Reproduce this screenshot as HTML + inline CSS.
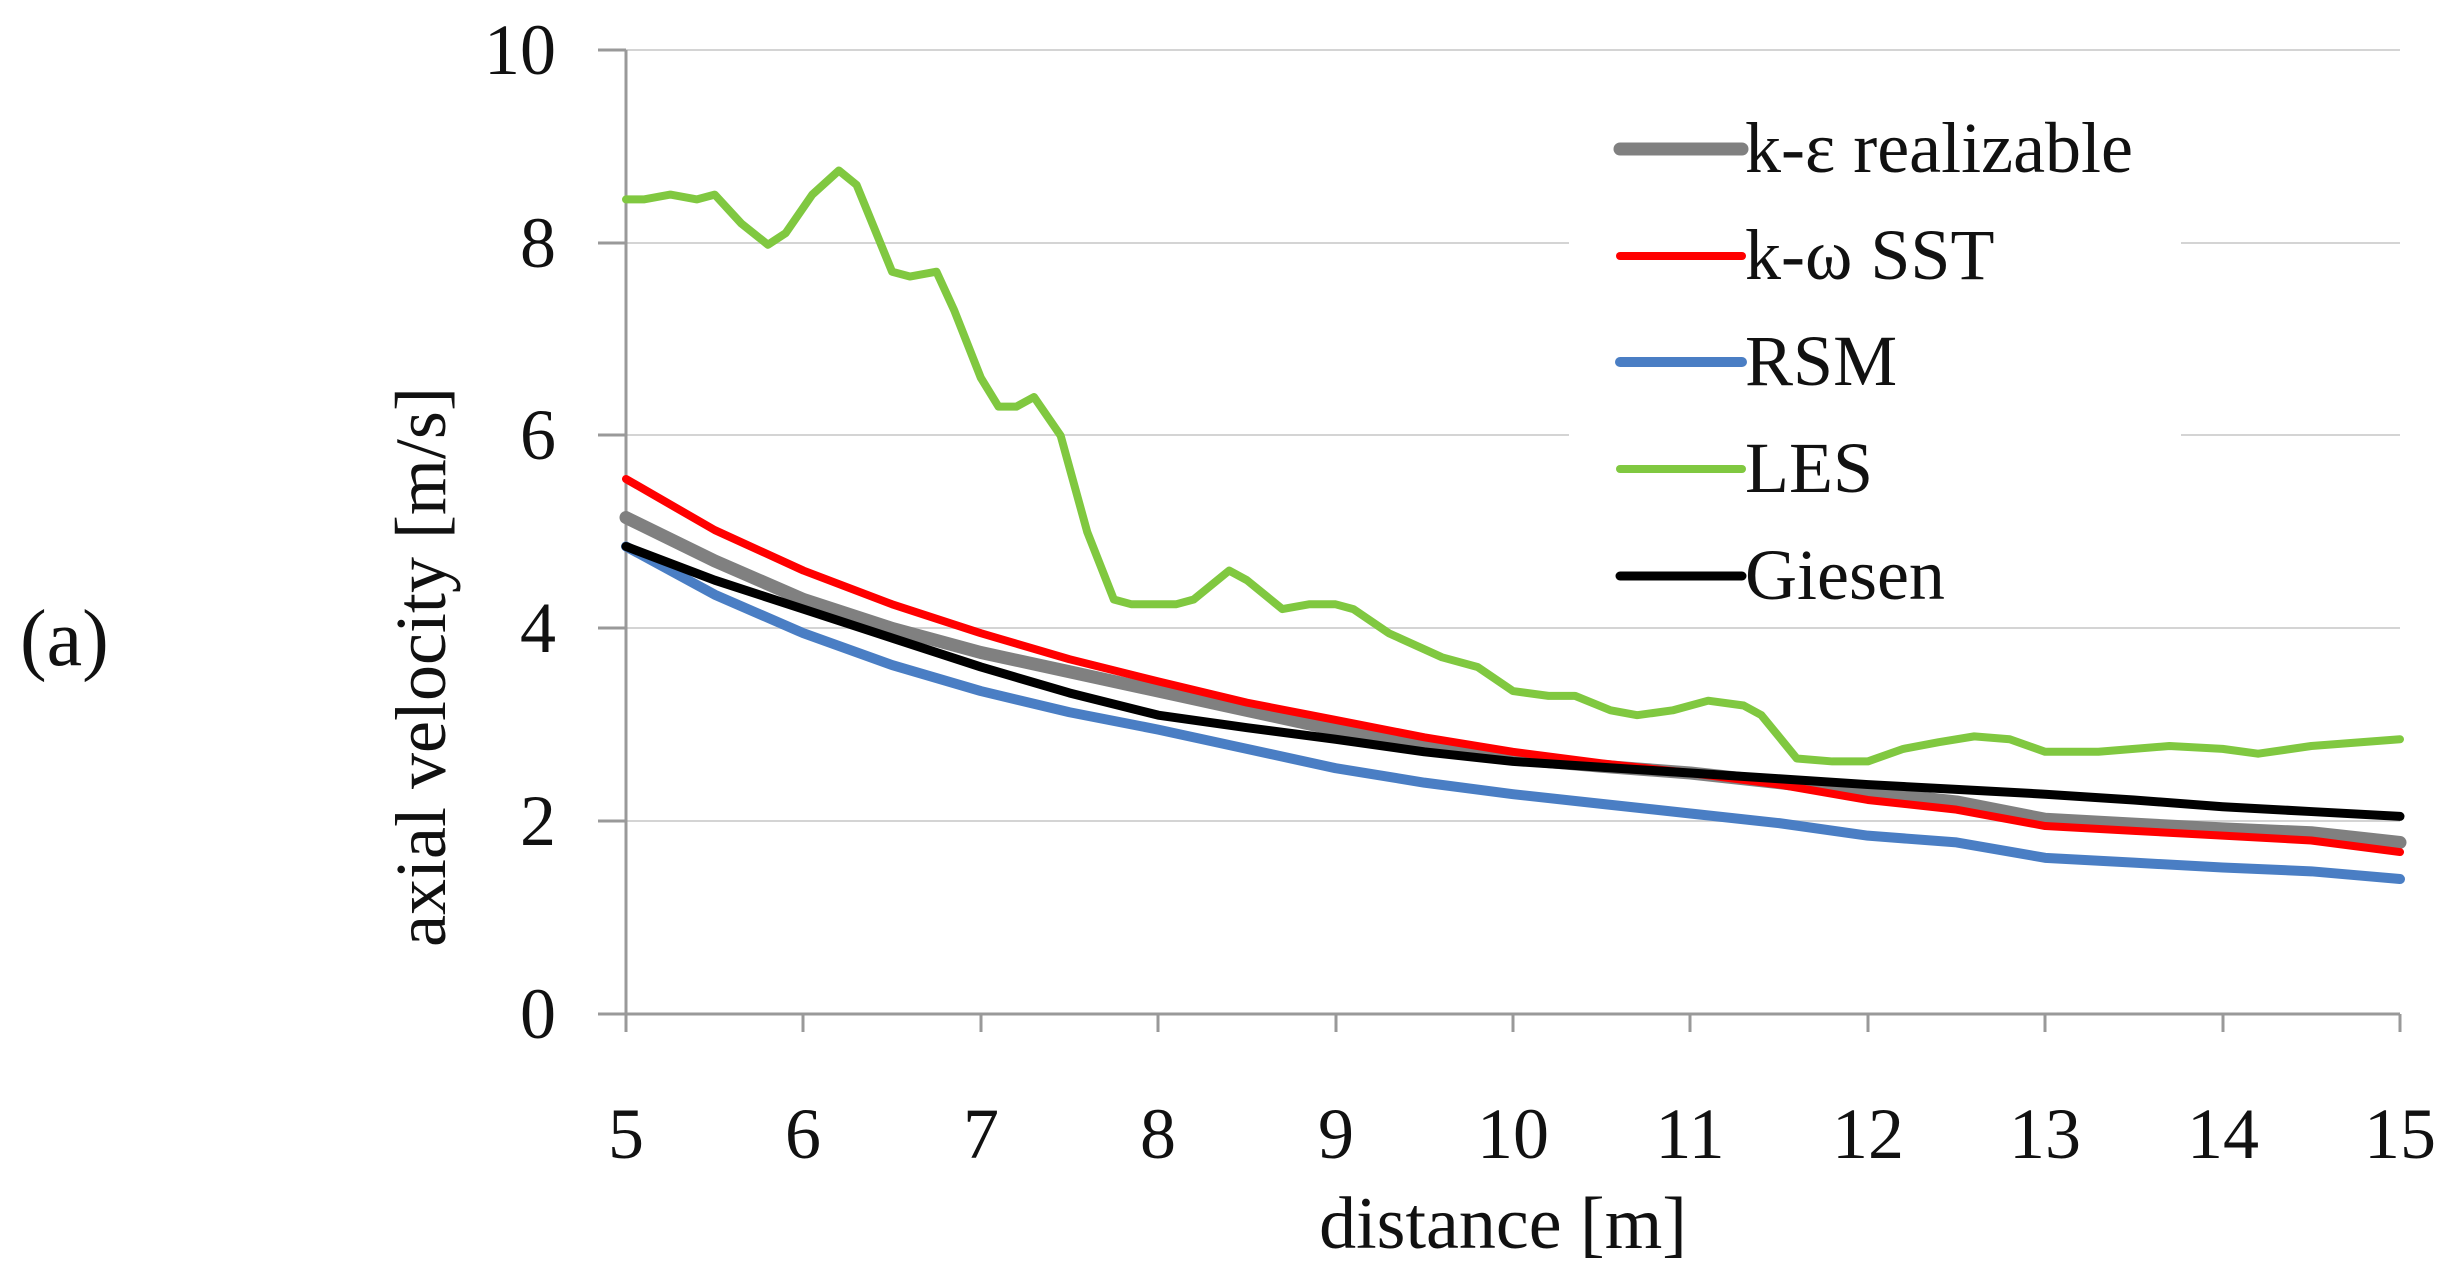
<!DOCTYPE html>
<html><head><meta charset="utf-8"><style>
html,body{margin:0;padding:0;background:#fff;}
svg{display:block;}
text{font-family:"Liberation Serif",serif;fill:#111;}
</style></head><body>
<svg width="2460" height="1282" viewBox="0 0 2460 1282" xmlns="http://www.w3.org/2000/svg">
<rect width="2460" height="1282" fill="#fff"/>
<g stroke="#d4d4d4" stroke-width="2">
<line x1="626" x2="2400" y1="50" y2="50"/>
<line x1="626" x2="2400" y1="243" y2="243"/>
<line x1="626" x2="2400" y1="435" y2="435"/>
<line x1="626" x2="2400" y1="628" y2="628"/>
<line x1="626" x2="2400" y1="821" y2="821"/>
</g>
<rect x="1569" y="94" width="612" height="526" fill="#fff"/>
<g stroke="#999" stroke-width="3">
<line x1="626" y1="50" x2="626" y2="1032"/>
<line x1="598" y1="1014" x2="2400" y2="1014"/>
<line x1="598" y1="50" x2="626" y2="50"/>
<line x1="598" y1="243" x2="626" y2="243"/>
<line x1="598" y1="435" x2="626" y2="435"/>
<line x1="598" y1="628" x2="626" y2="628"/>
<line x1="598" y1="821" x2="626" y2="821"/>
<line x1="803" y1="1014" x2="803" y2="1032"/>
<line x1="981" y1="1014" x2="981" y2="1032"/>
<line x1="1158" y1="1014" x2="1158" y2="1032"/>
<line x1="1336" y1="1014" x2="1336" y2="1032"/>
<line x1="1513" y1="1014" x2="1513" y2="1032"/>
<line x1="1690" y1="1014" x2="1690" y2="1032"/>
<line x1="1868" y1="1014" x2="1868" y2="1032"/>
<line x1="2045" y1="1014" x2="2045" y2="1032"/>
<line x1="2223" y1="1014" x2="2223" y2="1032"/>
<line x1="2400" y1="1014" x2="2400" y2="1032"/>
</g>
<g font-size="72" text-anchor="end">
<text x="556" y="74">10</text>
<text x="556" y="267">8</text>
<text x="556" y="459">6</text>
<text x="556" y="652">4</text>
<text x="556" y="845">2</text>
<text x="556" y="1038">0</text>
</g>
<g font-size="72" text-anchor="middle">
<text x="626" y="1158">5</text>
<text x="803" y="1158">6</text>
<text x="981" y="1158">7</text>
<text x="1158" y="1158">8</text>
<text x="1336" y="1158">9</text>
<text x="1513" y="1158">10</text>
<text x="1690" y="1158">11</text>
<text x="1868" y="1158">12</text>
<text x="2045" y="1158">13</text>
<text x="2223" y="1158">14</text>
<text x="2400" y="1158">15</text>
<text x="1503" y="1248" font-size="74">distance [m]</text>
<text x="0" y="0" transform="translate(445,667) rotate(-90)">axial velocity [m/s]</text>
</g>
<text x="20" y="665" font-size="80">(a)</text>
<g fill="none" stroke-linejoin="round" stroke-linecap="round" transform="translate(626,1014) scale(177.4,-96.4) translate(-5,0)">
<polyline vector-effect="non-scaling-stroke" stroke="#808080" stroke-width="13" points="5,5.15 5.5,4.7 6,4.3 6.5,4 7,3.75 7.5,3.55 8,3.35 8.5,3.15 9,2.95 9.5,2.8 10,2.65 10.5,2.57 11,2.5 11.5,2.4 12,2.3 12.5,2.2 13,2.02 13.5,1.97 14,1.92 14.5,1.88 15,1.78"/>
<polyline vector-effect="non-scaling-stroke" stroke="#ff0000" stroke-width="8" points="5,5.55 5.5,5.02 6,4.6 6.5,4.25 7,3.95 7.5,3.68 8,3.45 8.5,3.23 9,3.05 9.5,2.87 10,2.72 10.5,2.6 11,2.5 11.5,2.38 12,2.22 12.5,2.12 13,1.95 13.5,1.9 14,1.85 14.5,1.8 15,1.68"/>
<polyline vector-effect="non-scaling-stroke" stroke="#4a7ec4" stroke-width="10" points="5,4.85 5.5,4.35 6,3.95 6.5,3.62 7,3.35 7.5,3.13 8,2.95 8.5,2.75 9,2.55 9.5,2.4 10,2.28 10.5,2.18 11,2.08 11.5,1.98 12,1.85 12.5,1.78 13,1.62 13.5,1.57 14,1.52 14.5,1.48 15,1.4"/>
<polyline vector-effect="non-scaling-stroke" stroke="#80c840" stroke-width="8" points="5,8.45 5.1,8.45 5.25,8.5 5.4,8.45 5.5,8.5 5.65,8.2 5.8,7.98 5.9,8.1 6.05,8.5 6.2,8.75 6.3,8.6 6.5,7.7 6.6,7.65 6.75,7.7 6.85,7.3 7,6.6 7.1,6.3 7.2,6.3 7.3,6.4 7.45,6 7.6,5 7.75,4.3 7.85,4.25 8.1,4.25 8.2,4.3 8.4,4.6 8.5,4.5 8.7,4.2 8.85,4.25 9,4.25 9.1,4.2 9.3,3.95 9.6,3.7 9.8,3.6 10,3.35 10.2,3.3 10.35,3.3 10.55,3.15 10.7,3.1 10.9,3.15 11.1,3.25 11.3,3.2 11.4,3.1 11.6,2.65 11.8,2.62 12,2.62 12.2,2.75 12.4,2.82 12.6,2.88 12.8,2.85 13,2.72 13.3,2.72 13.7,2.78 14,2.75 14.2,2.7 14.5,2.78 15,2.85"/>
<polyline vector-effect="non-scaling-stroke" stroke="#000" stroke-width="9" points="5,4.85 5.5,4.5 6,4.2 6.5,3.9 7,3.6 7.5,3.33 8,3.1 8.5,2.97 9,2.85 9.5,2.72 10,2.62 10.5,2.56 11,2.5 11.5,2.44 12,2.38 12.5,2.33 13,2.28 13.5,2.22 14,2.15 14.5,2.1 15,2.05"/>
</g>
<g stroke-linecap="round">
<line x1="1620" x2="1742" y1="149" y2="149" stroke="#808080" stroke-width="13"/>
<line x1="1620" x2="1742" y1="256" y2="256" stroke="#ff0000" stroke-width="8"/>
<line x1="1620" x2="1742" y1="362" y2="362" stroke="#4a7ec4" stroke-width="10"/>
<line x1="1620" x2="1742" y1="469" y2="469" stroke="#80c840" stroke-width="8"/>
<line x1="1620" x2="1742" y1="576" y2="576" stroke="#000" stroke-width="9"/>
</g>
<g font-size="72">
<text x="1745" y="172">k-ε realizable</text>
<text x="1745" y="279">k-ω SST</text>
<text x="1745" y="385">RSM</text>
<text x="1745" y="492">LES</text>
<text x="1745" y="599">Giesen</text>
</g>
</svg>
</body></html>
